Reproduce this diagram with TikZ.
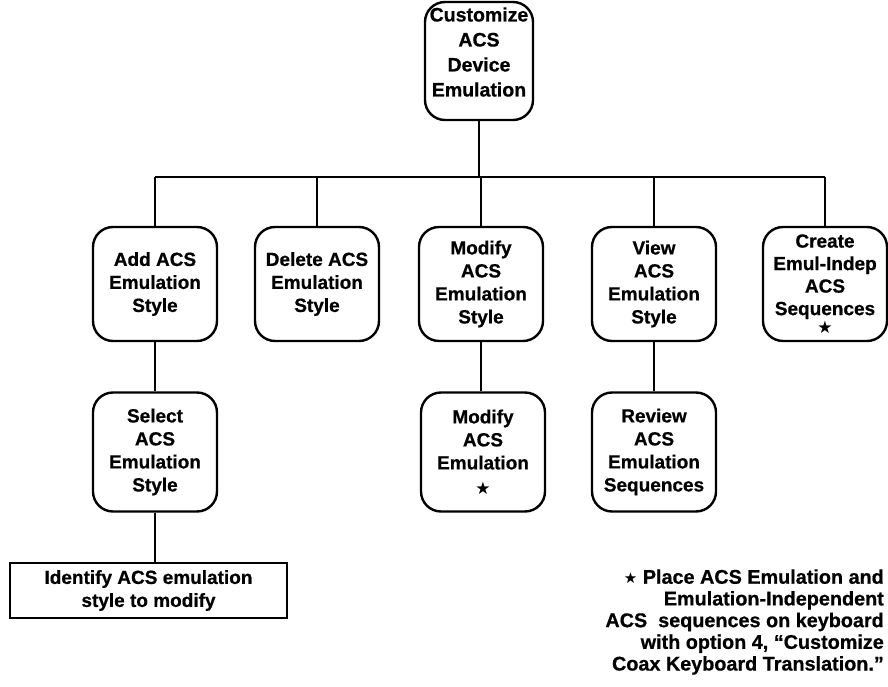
\documentclass[tikz,border=0pt]{standalone}
\usepackage{fontspec}
\setmainfont{Liberation Sans}[BoldFeatures={FakeBold=0.7}]
\newfontfamily\symfont{DejaVu Sans}
\newcommand{\fnstar}{{\symfont\fontsize{17}{17}\selectfont ★}}
\newcommand{\notestar}{{\symfont\fontsize{15}{15}\selectfont ★}}
\begin{document}
\begin{tikzpicture}[x=1pt,y=-1pt,
  every node/.style={font=\bfseries\fontsize{19}{23}\selectfont},
  task/.style={draw, line width=2.4pt, rounded corners=20pt, align=center,
    minimum width=124pt, minimum height=114pt, inner sep=0pt},
  plainbox/.style={draw, line width=2.4pt, align=center,
    minimum width=277pt, minimum height=55pt, inner sep=0pt},
  link/.style={line width=2.4pt}]
\useasboundingbox (0,0) rectangle (888,687);

% root of the tree: frame and its text
\node[task, minimum width=108pt, minimum height=118pt] (root) at (479,61) {};
\node[align=center, inner sep=0pt, font=\bfseries\fontsize{19.5}{25}\selectfont]
  (roottext) at (479,52) {Customize\\ACS\\Device\\Emulation};

% second level
\node[task] (add)    at (155,284) {Add ACS\\Emulation\\Style};
\node[task] (del)    at (317,284) {Delete ACS\\Emulation\\Style};
\node[task] (mod)    at (481,284) {Modify\\ACS\\Emulation\\Style};
\node[task] (view)   at (654,284) {View\\ACS\\Emulation\\Style};
\node[task, font=\bfseries\fontsize{19}{22.5}\selectfont] (create) at (825,284)
  {Create\\Emul-Indep\\ACS\\Sequences\\[-4pt]\fnstar};

% third level
\node[task, minimum height=119pt] (select) at (155,452) {Select\\ACS\\Emulation\\Style};
\node[task, minimum height=119pt] (modem)  at (483,452) {Modify\\ACS\\Emulation\\[2pt]\fnstar};
\node[task, minimum height=119pt] (review) at (654,452) {Review\\ACS\\Emulation\\Sequences};

% leaf
\node[plainbox] (ident) at (148.5,590.5) {Identify ACS emulation\\style to modify};

% footnote
\node[anchor=east, align=right, inner sep=0pt,
      font=\bfseries\fontsize{19.8}{21.7}\selectfont] (note) at (884,622)
  {\notestar{} Place ACS Emulation and\\
   Emulation-Independent\\
   ACS\ \ sequences on keyboard\\
   with option 4, ``Customize\\
   Coax Keyboard Translation.''};

% connectors
\coordinate (bus) at (479,177);
\draw[link] (root.south) -- (root.south |- bus);
\draw[link] (add.north |- bus) -- (create.north |- bus);
\foreach \n in {add,del,mod,view,create}
  \draw[link] (\n.north) -- (\n.north |- bus);
\draw[link] (add.south) -- (select.north);
\draw[link] (select.south) -- (select.south |- ident.north);
\draw[link] (mod.south) -- (mod.south |- modem.north);
\draw[link] (view.south) -- (review.north);
\end{tikzpicture}
\end{document}
